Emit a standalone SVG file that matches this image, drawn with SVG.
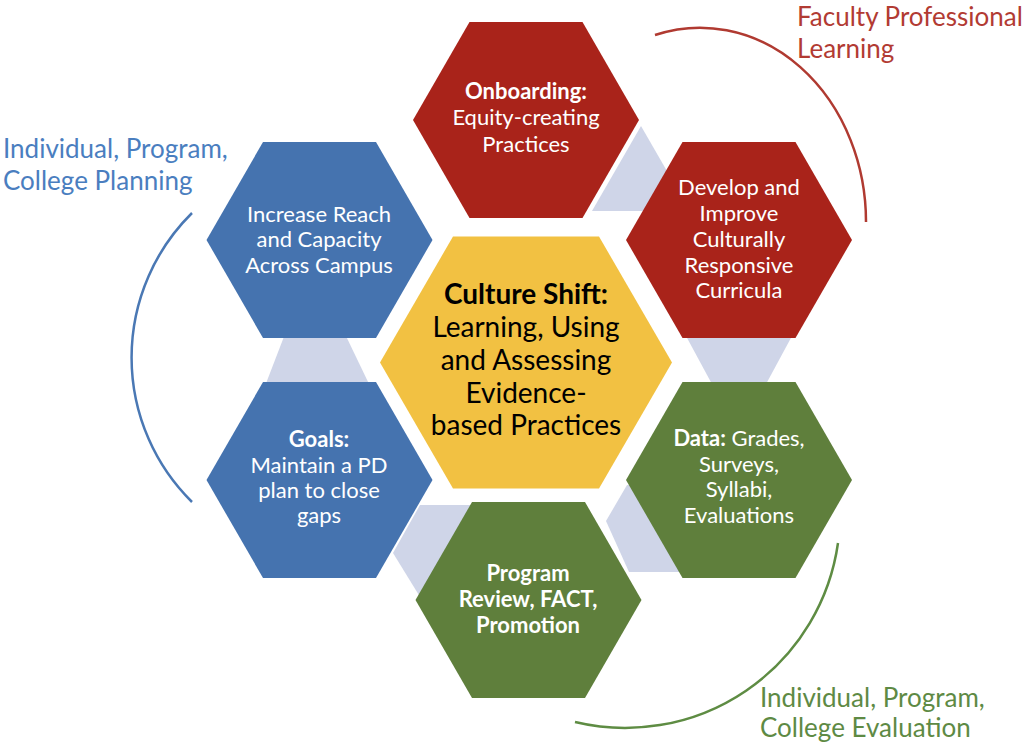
<svg xmlns="http://www.w3.org/2000/svg" width="1024" height="745" viewBox="0 0 1024 745">
<style>
  .hexr{fill:#a9231a}
  .hexb{fill:#4573af}
  .hexg{fill:#5f7f3c}
  .hexy{fill:#f2c142}
  .conn{fill:#cfd5e8}
  .t{font-family:Lato,"Liberation Sans",sans-serif;font-size:22px;fill:#ffffff;text-anchor:middle}
  .b{font-weight:bold}
  .tc{font-family:Lato,"Liberation Sans",sans-serif;font-size:28px;fill:#000000;text-anchor:middle}
  .lbl{font-family:Lato,"Liberation Sans",sans-serif;font-size:26px}
  .arc{fill:none;stroke-width:2.5}
</style>
<defs>
  <polygon id="hex" points="-113,0 -56.5,-98 56.5,-98 113,0 56.5,98 -56.5,98"/>
</defs>
<rect width="1024" height="745" fill="#ffffff"/>

<g id="connectors">
  <polygon class="conn" points="641,126 592,211 690,211"/>
  <polygon class="conn" points="686,336 792,336 765,386 713,386"/>
  <polygon class="conn" points="627,485 606,521 629,572 700,572 660,485"/>
  <polygon class="conn" points="420,505 480,505 425,605 393,553"/>
  <polygon class="conn" points="285,334 345,334 370,386 265,386"/>
</g>

<g id="arcs">
  <path class="arc" stroke="#b03a31" d="M655,35 A166,194 0 0 1 866,222"/>
  <path class="arc" stroke="#4a78b4" d="M192,213 A203,203 0 0 0 192,502"/>
  <path class="arc" stroke="#5e8c43" d="M838,543 A215,215 0 0 1 575,722"/>
</g>

<g id="label-faculty">
  <text class="lbl" fill="#b23b33" x="797" y="26">Faculty Professional</text>
  <text class="lbl" fill="#b23b33" x="797" y="58">Learning</text>
</g>
<g id="label-planning">
  <text class="lbl" fill="#4a7ebf" x="3" y="158">Individual, Program,</text>
  <text class="lbl" fill="#4a7ebf" x="3" y="190">College Planning</text>
</g>
<g id="label-evaluation">
  <text class="lbl" fill="#5e8a44" x="760" y="707">Individual, Program,</text>
  <text class="lbl" fill="#5e8a44" x="760" y="737">College Evaluation</text>
</g>

<g id="node-onboarding">
  <use href="#hex" class="hexr" x="526" y="120"/>
  <text class="t b" x="526" y="99">Onboarding:</text>
  <text class="t" x="526" y="125">Equity-creating</text>
  <text class="t" x="526" y="152">Practices</text>
</g>
<g id="node-develop">
  <use href="#hex" class="hexr" x="739" y="240"/>
  <text class="t" x="739" y="195">Develop and</text>
  <text class="t" x="739" y="221">Improve</text>
  <text class="t" x="739" y="247">Culturally</text>
  <text class="t" x="739" y="273">Responsive</text>
  <text class="t" x="739" y="298">Curricula</text>
</g>
<g id="node-data">
  <use href="#hex" class="hexg" x="739" y="480"/>
  <text class="t" x="739" y="446"><tspan class="b">Data:</tspan> Grades,</text>
  <text class="t" x="739" y="472">Surveys,</text>
  <text class="t" x="739" y="497">Syllabi,</text>
  <text class="t" x="739" y="523">Evaluations</text>
</g>
<g id="node-program">
  <use href="#hex" class="hexg" x="528.5" y="600"/>
  <text class="t b" x="528" y="581">Program</text>
  <text class="t b" x="528" y="607">Review, FACT,</text>
  <text class="t b" x="528" y="633">Promotion</text>
</g>
<g id="node-goals">
  <use href="#hex" class="hexb" x="319.5" y="480"/>
  <text class="t b" x="319" y="447">Goals:</text>
  <text class="t" x="319" y="473">Maintain a PD</text>
  <text class="t" x="319" y="498">plan to close</text>
  <text class="t" x="319" y="523">gaps</text>
</g>
<g id="node-reach">
  <use href="#hex" class="hexb" x="319.5" y="240"/>
  <text class="t" x="319" y="222">Increase Reach</text>
  <text class="t" x="319" y="247">and Capacity</text>
  <text class="t" x="319" y="273">Across Campus</text>
</g>
<g id="node-center">
  <polygon class="hexy" points="380,362.5 453,236.5 599,236.5 672,362.5 599,488.5 453,488.5"/>
  <text class="tc b" x="526" y="304">Culture Shift:</text>
  <text class="tc" x="526" y="337">Learning, Using</text>
  <text class="tc" x="526" y="370">and Assessing</text>
  <text class="tc" x="526" y="403">Evidence-</text>
  <text class="tc" x="526" y="435">based Practices</text>
</g>
</svg>
